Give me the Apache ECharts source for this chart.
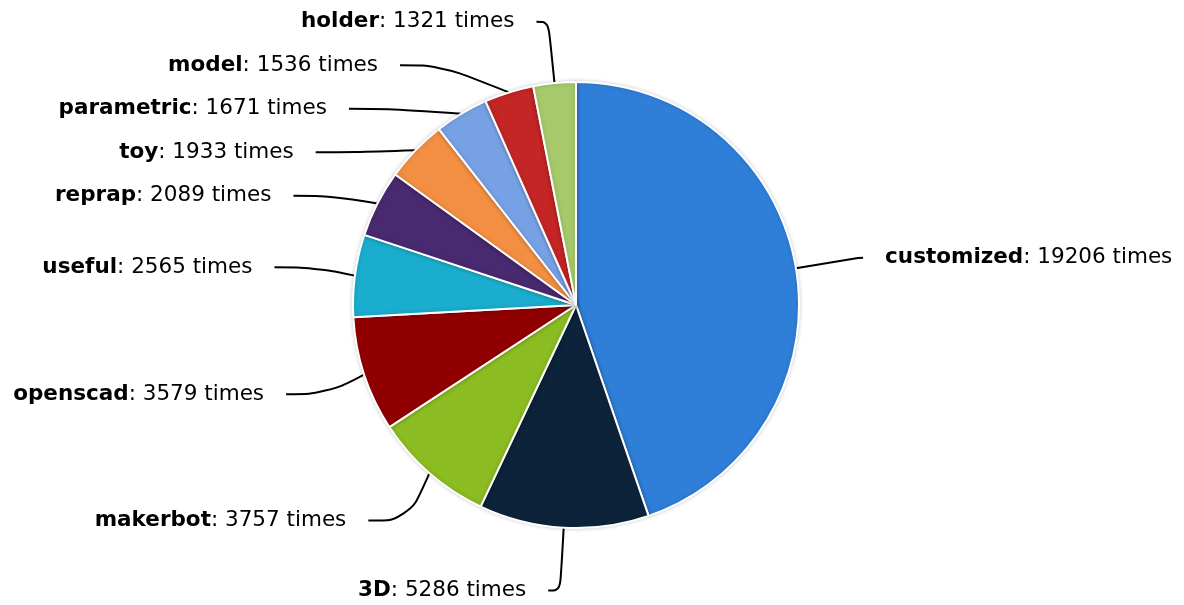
<!DOCTYPE html>
<html>
<head>
<meta charset="utf-8">
<script src="https://cdn.jsdelivr.net/npm/echarts@6/dist/echarts.min.js"></script>
<style>
  html, body { margin: 0; padding: 0; background: #fff; overflow: hidden; }
  #chart { width: 1184px; height: 640px; }
</style>
</head>
<body>
<div id="chart"></div>
<script>
const tags = ['customized', '3D', 'makerbot', 'openscad', 'useful', 'reprap', 'toy', 'parametric', 'model', 'holder'];
const counts = [19206, 5286, 3757, 3579, 2565, 2089, 1933, 1671, 1536, 1321];
const colors = ['#2f7ed8', '#0d233a', '#8bbc21', '#910000', '#1aadce', '#492970', '#f28f43', '#77a1e5', '#c42525', '#a6c96a'];

// labels close to the vertical axis keep a short horizontal connector
const shortLeg = { customized: 5, '3D': 12, holder: 12 };

const chart = echarts.init(document.getElementById('chart'));

chart.setOption({
  animation: false,
  color: colors,
  series: [{
    type: 'pie',
    center: [576, 305],
    radius: [0, 223],
    startAngle: 90,
    clockwise: true,
    data: tags.map((t, i) => ({
      name: t,
      value: counts[i],
      labelLine: { length2: t in shortLeg ? shortLeg[t] : 40 }
    })),
    itemStyle: {
      borderColor: '#fff',
      borderWidth: 2,
      shadowBlur: 4,
      shadowColor: 'rgba(0,0,0,0.18)'
    },
    label: {
      show: true,
      position: 'outside',
      fontFamily: 'DejaVu Sans',
      fontSize: 21.5,
      lineHeight: 41.5,
      color: '#000',
      overflow: 'none',
      formatter: '{b|{b}}: {c} times',
      rich: {
        b: { fontFamily: 'DejaVu Sans', fontSize: 21.5, lineHeight: 41.5, fontWeight: 'bold', color: '#000' }
      },
      distanceToLabelLine: 22
    },
    labelLine: {
      show: true,
      length: 63,
      smooth: 0.4,
      lineStyle: { color: '#000', width: 2 }
    }
  }]
});
</script>
</body>
</html>
